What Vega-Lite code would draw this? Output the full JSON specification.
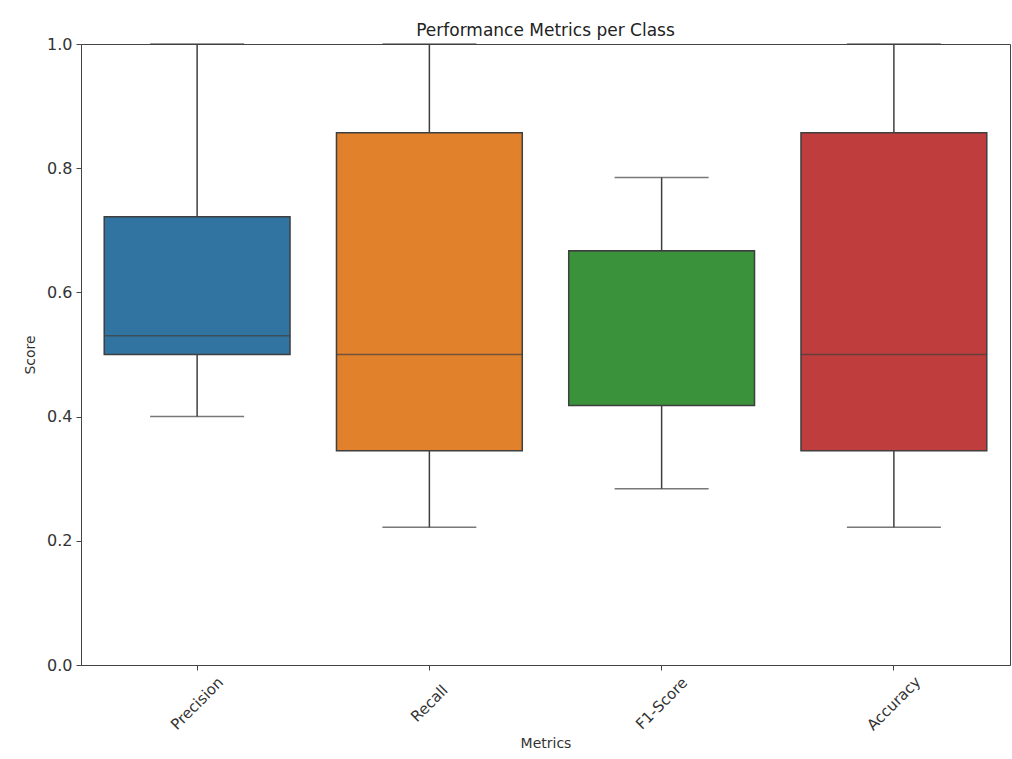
{
  "$schema": "https://vega.github.io/schema/vega-lite/v6.json",
  "autosize": "none",
  "width": 929,
  "height": 621,
  "padding": {"left": 81, "top": 44, "right": 2, "bottom": 94},
  "background": "white",
  "title": {"text": "Performance Metrics per Class", "font": "DejaVu Sans", "fontSize": 17, "fontWeight": "normal", "color": "#222", "offset": -4},
  "config": {
    "view": {"stroke": "#444", "strokeWidth": 1},
    "axis": {"labelFont": "DejaVu Sans", "titleFont": "DejaVu Sans", "labelColor": "#333", "titleColor": "#333", "domainColor": "#444", "tickColor": "#444", "grid": false, "titleFontWeight": "normal"}
  },
  "data": {"values": [
    {"metric": "Precision", "min": 0.4, "q1": 0.5, "median": 0.53, "q3": 0.722, "max": 1.0},
    {"metric": "Recall", "min": 0.222, "q1": 0.345, "median": 0.5, "q3": 0.857, "max": 1.0},
    {"metric": "F1-Score", "min": 0.284, "q1": 0.418, "median": 0.667, "q3": 0.667, "max": 0.785},
    {"metric": "Accuracy", "min": 0.222, "q1": 0.345, "median": 0.5, "q3": 0.857, "max": 1.0}
  ]},
  "encoding": {
    "x": {"field": "metric", "type": "nominal", "sort": ["Precision", "Recall", "F1-Score", "Accuracy"],
      "scale": {"paddingInner": 0, "paddingOuter": 0},
      "axis": {"title": "Metrics", "labelAngle": -45, "labelAlign": "center", "labelBaseline": "middle", "labelPadding": 33, "labelFontSize": 15, "titleFontSize": 14, "tickSize": 5, "titlePadding": 4}}
  },
  "layer": [
    {"mark": {"type": "rule", "color": "#3f3f3f", "strokeWidth": 1.5},
     "encoding": {
       "y": {"field": "min", "type": "quantitative", "scale": {"domain": [0, 1]},
         "axis": {"title": "Score", "format": ".1f", "values": [0, 0.2, 0.4, 0.6, 0.8, 1.0], "labelFontSize": 16, "titleFontSize": 14, "tickSize": 5, "labelPadding": 4, "titlePadding": 9}},
       "y2": {"field": "max"}
     }},
    {"mark": {"type": "bar", "width": {"band": 0.8}, "stroke": "#3f3f3f", "strokeWidth": 1.5, "opacity": 1},
     "encoding": {
       "y": {"field": "q1", "type": "quantitative"},
       "y2": {"field": "q3"},
       "color": {"field": "metric", "type": "nominal", "legend": null,
         "scale": {"domain": ["Precision", "Recall", "F1-Score", "Accuracy"], "range": ["#3274a1", "#e1812c", "#3a923a", "#c03d3e"]}}
     }},
    {"mark": {"type": "tick", "color": "#3f3f3f", "thickness": 1.5, "size": 186, "orient": "horizontal"},
     "encoding": {"y": {"field": "median", "type": "quantitative"}}},
    {"mark": {"type": "tick", "color": "#3f3f3f", "thickness": 1.5, "size": 94, "orient": "horizontal"},
     "encoding": {"y": {"field": "min", "type": "quantitative"}}},
    {"mark": {"type": "tick", "color": "#3f3f3f", "thickness": 1.5, "size": 94, "orient": "horizontal"},
     "encoding": {"y": {"field": "max", "type": "quantitative"}}}
  ]
}
